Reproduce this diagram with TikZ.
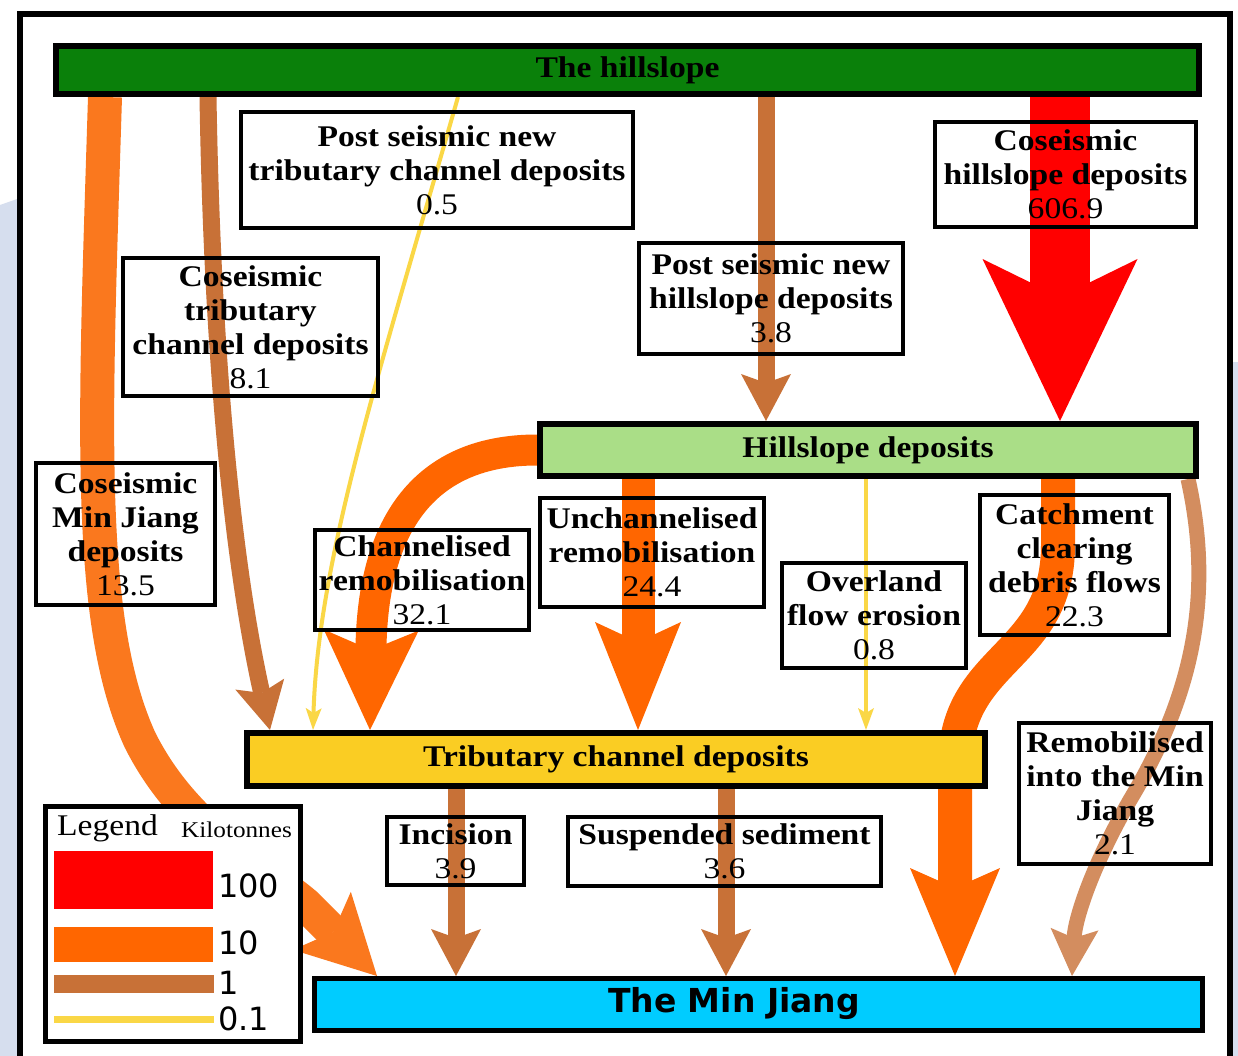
\documentclass[tikz,border=0pt]{standalone}
\usepackage{fontspec}
\setmainfont{Liberation Serif}[FakeStretch=1.12]
\newfontfamily\mjfont{DejaVu Sans}
\usetikzlibrary{arrows.meta}
\definecolor{hillgreen}{RGB}{10,128,10}
\definecolor{hsgreen}{RGB}{170,222,135}
\definecolor{tribyel}{RGB}{250,205,35}
\definecolor{mjcyan}{RGB}{0,204,255}
\definecolor{flowred}{RGB}{255,0,0}
\definecolor{floworange}{RGB}{255,102,0}
\definecolor{flowlorange}{RGB}{250,120,30}
\definecolor{flowbrown}{RGB}{200,113,55}
\definecolor{flowlbrown}{RGB}{211,141,95}
\definecolor{flowyel}{RGB}{250,215,70}
\definecolor{bgblue}{RGB}{214,222,238}
\pgfdeclarelayer{back}
\pgfdeclarelayer{flows}
\pgfsetlayers{back,flows,main}
\begin{document}
\begin{tikzpicture}[x=1pt,y=-1pt,
  txt/.style={font=\fontsize{30}{34}\selectfont\bfseries},
  bar/.style={txt, draw=black, line width=6pt, inner sep=0pt},
  lbl/.style={txt, draw=black, line width=3.5pt, inner sep=0pt, align=center},
  redflow/.style={draw=flowred, line width=60pt, -{Stealth[length=162pt,width=155pt,inset=38pt,line width=0pt]}},
  orangeflow/.style={draw=floworange, line width=33pt, -{Stealth[length=108pt,width=86pt,inset=20pt,line width=0pt]}},
  lorangeflow/.style={draw=flowlorange, line width=34pt, -{Stealth[length=78pt,width=82pt,inset=16pt,line width=0pt]}},
  brownflow/.style={draw=flowbrown, line width=17pt, -{Stealth[length=47pt,width=50pt,inset=9pt,line width=0pt]}},
  lbrownflow/.style={draw=flowlbrown, line width=15pt, -{Stealth[length=47pt,width=48pt,inset=9pt,line width=0pt]}},
  yelflow/.style={draw=flowyel, line width=4pt, -{Stealth[length=22pt,width=16pt,inset=5pt,line width=0pt]}},
  legnum/.style={font=\mjfont\fontsize{32}{34}\selectfont, inner sep=0pt, anchor=west}
]
\useasboundingbox (0,0) rectangle (1238,1056);
\clip (0,0) rectangle (1238,1056);
\begin{pgfonlayer}{back}
  \fill[white] (0,0) rectangle (1238,1056);
  \fill[bgblue] (0,205) -- (20,198) -- (20,1056) -- (0,1056) -- cycle;
  \fill[bgblue] (1232,362) rectangle (1238,1056);
\end{pgfonlayer}

% bars
\node[bar, fill=hillgreen, minimum width=1143pt, minimum height=48pt] (hill) at (627.5,70) {The hillslope};
\node[bar, fill=hsgreen, minimum width=656pt, minimum height=52pt] (hsdep) at (868,450) {Hillslope deposits};
\node[bar, fill=tribyel, minimum width=738pt, minimum height=53pt] (trib) at (616,759.5) {Tributary channel deposits};
\node[draw=black, line width=5pt, inner sep=0pt, fill=mjcyan, minimum width=888pt, minimum height=52pt] (minj) at (758.5,1004.5) {};
\node[font=\mjfont\bfseries\fontsize{33}{36}\selectfont, inner sep=0pt] (mjtxt) at (734,1004) {The Min Jiang};

% flows
\begin{pgfonlayer}{flows}
  \draw[lorangeflow] ([xshift=52pt]hill.south west) .. controls (95,420) and (85,620) .. (140,740) .. controls (185,830) and (265,870) .. (305,904) -- ([xshift=65pt]minj.north west);
  \draw[brownflow] ([xshift=155pt]hill.south west) .. controls (212,350) and (232,560) .. ([xshift=26pt]trib.north west);
  \draw[yelflow] ([xshift=405pt]hill.south west) .. controls (380,370) and (318,560) .. ([xshift=69pt]trib.north west);
  \draw[brownflow] ([xshift=713pt]hill.south west) -- ([xshift=229pt]hsdep.north west);
  \draw[redflow] ([xshift=1007pt]hill.south west) -- ([xshift=523pt]hsdep.north west);
  \draw[orangeflow, line width=31pt, -{Stealth[length=100pt,width=95pt,inset=20pt,line width=0pt]}] (hsdep.west) .. controls (400,450) and (372,560) .. ([xshift=126pt]trib.north west);
  \draw[orangeflow] ([xshift=101pt]hsdep.south west) -- ([xshift=394pt]trib.north west);
  \draw[yelflow] ([xshift=329pt]hsdep.south west) -- ([xshift=622pt]trib.north west);
  \draw[orangeflow, line width=34pt, -{Stealth[length=108pt,width=90pt,inset=20pt,line width=0pt]}] ([xshift=521pt]hsdep.south west) -- (1058,545) .. controls (1058,660) and (955,655) .. (955,765) -- ([xshift=643pt]minj.north west);
  \draw[lbrownflow] ([xshift=651pt]hsdep.south west) .. controls (1215,600) and (1190,700) .. (1130,800) .. controls (1090,870) and (1075,920) .. ([xshift=760pt]minj.north west);
  \draw[brownflow] ([xshift=212pt]trib.south west) -- ([xshift=144pt]minj.north west);
  \draw[brownflow] ([xshift=482pt]trib.south west) -- ([xshift=414pt]minj.north west);
\end{pgfonlayer}

% labels
\node[lbl, minimum width=392pt, minimum height=116pt] (psntcd) at (437,170) {Post seismic new\\tributary channel deposits\\\mdseries 0.5};
\node[lbl, minimum width=255pt, minimum height=138pt] (ctcd) at (250.5,327) {Coseismic\\tributary\\channel deposits\\\mdseries 8.1};
\node[lbl, minimum width=264pt, minimum height=111pt] (psnhd) at (771,298.5) {Post seismic new\\hillslope deposits\\\mdseries 3.8};
\node[lbl, minimum width=261pt, minimum height=105pt] (chd) at (1065.5,174.5) {Coseismic\\hillslope deposits\\\mdseries 606.9};
\node[lbl, minimum width=179pt, minimum height=142pt] (cmjd) at (125.5,534) {Coseismic\\Min Jiang\\deposits\\\mdseries 13.5};
\node[lbl, minimum width=214pt, minimum height=100pt] (chrem) at (422,580) {Channelised\\remobilisation\\\mdseries 32.1};
\node[lbl, minimum width=224pt, minimum height=109pt] (unrem) at (652,552.5) {Unchannelised\\remobilisation\\\mdseries 24.4};
\node[lbl, minimum width=184pt, minimum height=105pt] (ofe) at (874,615.5) {Overland\\flow erosion\\\mdseries 0.8};
\node[lbl, minimum width=189pt, minimum height=140pt] (ccdf) at (1074.5,565) {Catchment\\clearing\\debris flows\\\mdseries 22.3};
\node[lbl, minimum width=192pt, minimum height=141pt] (rmj) at (1115,793.5) {Remobilised\\into the Min\\Jiang\\\mdseries 2.1};
\node[lbl, minimum width=137pt, minimum height=68pt] (inc) at (455.5,851) {Incision\\\mdseries 3.9};
\node[lbl, minimum width=313pt, minimum height=69pt] (susp) at (724.5,851.5) {Suspended sediment\\\mdseries 3.6};

% legend
\node[draw=black, fill=white, line width=5pt, minimum width=255pt, minimum height=235pt, inner sep=0pt] (legend) at (172.5,923.5) {};
\node[font=\fontsize{30}{34}\selectfont, inner sep=0pt, anchor=west] (legtitle) at (57,828) {Legend};
\node[font=\fontsize{22.5}{26}\selectfont, inner sep=0pt, anchor=west] (legunit) at (181,830) {Kilotonnes};
\fill[flowred] (54,851) rectangle (213,909);
\fill[floworange] (54,927) rectangle (213,962);
\fill[flowbrown] (54,975) rectangle (214,993);
\fill[flowyel] (54,1016) rectangle (214,1023);
\node[legnum] (l100) at (218,886) {100};
\node[legnum] (l10) at (218,943) {10};
\node[legnum] (l1) at (218,983) {1};
\node[legnum] (l01) at (218,1019) {0.1};

% frame
\draw[line width=6pt] (20,14) rectangle (1230,1090);
\end{tikzpicture}
\end{document}
